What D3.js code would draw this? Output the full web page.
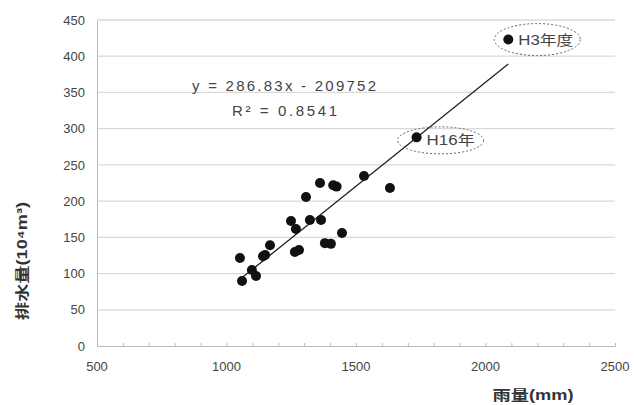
<!DOCTYPE html>
<html>
<head>
<meta charset="utf-8">
<script src="https://cdn.jsdelivr.net/npm/d3@7"></script>
<style>
  body { margin: 0; background: #fff; }
  text { font-family: "Liberation Sans", "Noto Sans CJK JP", sans-serif; }
</style>
</head>
<body>
<div class="chart"></div>
<script>
// rainfall (mm) vs drainage volume (10^4 m3)
const rain  = [1052, 1060, 1098, 1114, 1141, 1149, 1168, 1249, 1268, 1264, 1280, 1307, 1322, 1361, 1365, 1412, 1425, 1380, 1403, 1446, 1531, 1631, 1734, 2088];
const drain = [121.5, 89.7, 105, 96.6, 124, 125.6, 139, 172.6, 161.5, 129.8, 132.5, 205.7, 174, 225, 174, 222, 220, 142, 141, 156, 234.7, 218, 288, 423];
const callouts = [{x: 1734, y: 288, label: "H16年", w: 48}, {x: 2088, y: 423, label: "H3年度", w: 55}];
const slope = 0.28683, intercept = -209.752;
const yTicks = [0, 50, 100, 150, 200, 250, 300, 350, 400, 450];
const xTicks = [500, 1000, 1500, 2000, 2500];

const margin = {top: 20, left: 97, bottom: 59, right: 19};
const width = 634 - margin.left - margin.right;
const height = 405 - margin.top - margin.bottom;

const svg = d3.select(".chart").append("svg")
    .attr("width", 634)
    .attr("height", 405)
  .append("g")
    .attr("transform", "translate(" + margin.left + "," + margin.top + ")");

const x = d3.scaleLinear().domain([500, 2500]).range([0, width]);
const y = d3.scaleLinear().domain([0, 450]).range([height, 0]);

// gridlines
svg.selectAll(".grid")
  .data(yTicks.filter(d => d > 0))
  .enter().append("line")
  .attr("x1", 0).attr("x2", width)
  .attr("y1", d => y(d)).attr("y2", d => y(d))
  .attr("stroke", "#d9d9d9").attr("stroke-width", 1.3);

// y axis
const yAxis = svg.append("g")
  .call(d3.axisLeft(y).tickValues(yTicks).tickSize(0).tickPadding(12));
yAxis.select(".domain").attr("stroke", "#bbb");
yAxis.selectAll("text").attr("font-size", 13).attr("fill", "#444");

// x axis, minor ticks every 100 pointing up
const xAxis = svg.append("g")
  .attr("transform", "translate(0," + height + ")")
  .call(d3.axisBottom(x).ticks(20).tickSize(-3).tickFormat(""));
xAxis.select(".domain").attr("stroke", "#bbb");
xAxis.selectAll("line").attr("stroke", "#bbb");

svg.append("g").selectAll("text")
  .data(xTicks).enter().append("text")
  .attr("x", d => x(d)).attr("y", height + 25)
  .attr("text-anchor", "middle")
  .attr("font-size", 13).attr("fill", "#444")
  .text(d => d);

// trendline over the data range
const xr = d3.extent(rain);
svg.append("line")
  .attr("x1", x(xr[0])).attr("y1", y(slope * xr[0] + intercept))
  .attr("x2", x(xr[1])).attr("y2", y(slope * xr[1] + intercept))
  .attr("stroke", "#222").attr("stroke-width", 1.3);

// points
svg.selectAll(".pt")
  .data(rain.map((d, i) => [d, drain[i]]))
  .enter().append("circle")
  .attr("class", "pt")
  .attr("r", 5)
  .attr("cx", d => x(d[0]))
  .attr("cy", d => y(d[1]))
  .attr("fill", "#111");

// callouts
const co = svg.selectAll(".co").data(callouts).enter().append("g");
co.append("ellipse")
  .attr("cx", d => x(d.x) + (d.w > 50 ? 29 : 24)).attr("cy", d => y(d.y) + (d.w > 50 ? 0 : 3))
  .attr("rx", 43)
  .attr("ry", d => d.w > 50 ? 16 : 13.5)
  .attr("fill", "none").attr("stroke", "#666")
  .attr("stroke-dasharray", "2,2").attr("stroke-width", 1);
co.append("text")
  .attr("x", d => x(d.x) + 10).attr("y", d => y(d.y) + (d.w > 50 ? 5 : 8))
  .attr("font-size", 14).attr("fill", "#444")
  .attr("textLength", d => d.w)
  .attr("lengthAdjust", "spacingAndGlyphs")
  .text(d => d.label);

// equation
svg.append("text")
  .attr("x", 192 - margin.left).attr("y", 91 - margin.top)
  .attr("font-size", 15).attr("fill", "#444")
  .attr("textLength", 184)
  .text("y = 286.83x - 209752");
svg.append("text")
  .attr("x", 232 - margin.left).attr("y", 116 - margin.top)
  .attr("font-size", 15).attr("fill", "#444")
  .attr("textLength", 105)
  .text("R² = 0.8541");

// axis titles
svg.append("text")
  .attr("transform", "translate(" + (27 - margin.left) + "," + (261 - margin.top) + ") rotate(-90)")
  .attr("text-anchor", "middle")
  .attr("font-size", 14).attr("font-weight", "bold").attr("fill", "#333")
  .attr("textLength", 118).attr("lengthAdjust", "spacingAndGlyphs")
  .text("排水量(10⁴m³)");
svg.append("text")
  .attr("x", 533 - margin.left).attr("y", 400 - margin.top)
  .attr("text-anchor", "middle")
  .attr("font-size", 14).attr("font-weight", "bold").attr("fill", "#333")
  .attr("textLength", 81).attr("lengthAdjust", "spacingAndGlyphs")
  .text("雨量(mm)");
</script>
</body>
</html>
